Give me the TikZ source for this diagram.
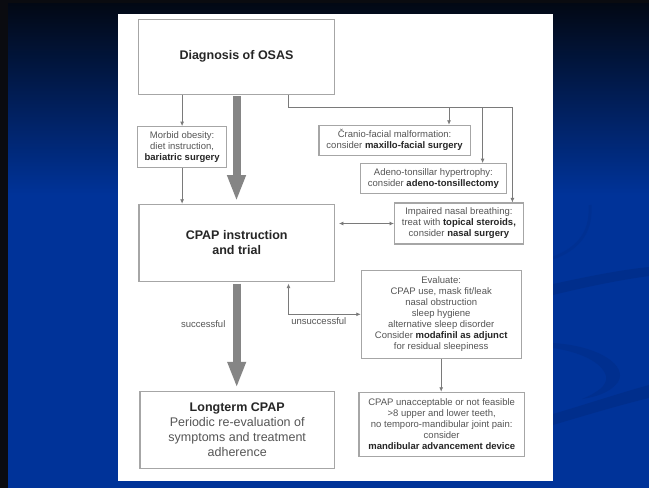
\documentclass[tikz,border=0pt]{standalone}
\usepackage{fontspec}
\setmainfont{Liberation Sans}
\usepackage{xcolor}
\usetikzlibrary{arrows.meta,positioning,calc}
\definecolor{framedark}{HTML}{0A0B10}
\definecolor{slidetop}{HTML}{020814}
\definecolor{slideblue}{HTML}{003399}
\definecolor{swoosh}{HTML}{002A80}
\definecolor{boxgrey}{HTML}{A6A6A6}
\definecolor{linegrey}{HTML}{7A7A7A}
\definecolor{shaftgrey}{HTML}{858585}
\definecolor{txtgrey}{HTML}{555555}
\definecolor{txtdark}{HTML}{262626}
\newcommand{\keyterm}[1]{\textcolor{txtdark}{\bfseries #1}}

\begin{document}
\begin{tikzpicture}[x=1pt,y=-1pt,
 box/.style={draw=boxgrey,line width=1.1pt,fill=white,align=center,inner sep=2pt,text=txtgrey,font=\fontsize{9.5}{11}\selectfont},
 bigbox/.style={box,font=\fontsize{12.5}{14.7}\selectfont},
 arr/.style={-{Latex[length=4.5pt,width=4pt]},draw=linegrey,line width=0.8pt},
 darr/.style={arr,{Latex[length=4.5pt,width=4pt]}-{Latex[length=4.5pt,width=4pt]}},
 bigarr/.style={-{Triangle[length=26pt,width=17pt]},draw=shaftgrey,line width=8pt},
 lbl/.style={text=txtgrey,font=\fontsize{9.5}{11}\selectfont}
]
\useasboundingbox (0,0) rectangle (649,488);
\fill[framedark] (0,0) rectangle (649,488);
\fill[slideblue] (8,3) rectangle (649,488);
\shade[top color=slidetop,bottom color=slideblue] (8,3) rectangle (649,195);
\fill[swoosh,opacity=0.5] (553,284) .. controls (590,276) and (620,270) .. (649,267) -- (649,276) .. controls (620,280) and (590,286) .. (553,295) -- cycle;
\fill[swoosh,opacity=0.5] (553,414) .. controls (590,403) and (620,393) .. (649,385) -- (649,398) .. controls (620,405) and (590,414) .. (553,425) -- cycle;
\fill[swoosh,opacity=0.4] (553,343) .. controls (600,346) and (628,366) .. (618,382) .. controls (610,393) and (595,397) .. (582,399) .. controls (596,393) and (608,386) .. (606,376) .. controls (602,362) and (580,352) .. (553,348) -- cycle;
\draw[swoosh,opacity=0.25,line width=3pt] (590,205) .. controls (592,235) and (575,250) .. (553,258);
\fill[white] (118,14) rectangle (553,481);

\node[bigbox,minimum width=195.7pt,minimum height=75.3pt] (diag) at (236.5,56.7) {\keyterm{Diagnosis of OSAS}};
\node[box,minimum width=88.6pt,minimum height=41pt] (obesity) at (182.1,147.2) {Morbid obesity:\\diet instruction,\\\keyterm{bariatric surgery}};
\node[box,minimum width=151.2pt,minimum height=30pt] (cranio) at (394.6,140.3) {Čranio-facial malformation:\\consider \keyterm{maxillo-facial surgery}};
\node[box,minimum width=145.7pt,minimum height=29.6pt] (adeno) at (433.4,178.5) {Adeno-tonsillar hypertrophy:\\consider \keyterm{adeno-tonsillectomy}};
\node[box,minimum width=128.7pt,minimum height=41pt] (nasal) at (458.9,223.5) {Impaired nasal breathing:\\treat with \keyterm{topical steroids,}\\consider \keyterm{nasal surgery}};
\node[bigbox,minimum width=195.4pt,minimum height=76.7pt] (cpap) at (236.7,242.7) {\keyterm{CPAP instruction}\\\keyterm{and trial}};
\node[box,minimum width=159.8pt,minimum height=88pt] (eval) at (441.2,314.3) {Evaluate:\\CPAP use, mask fit/leak\\nasal obstruction\\sleep hygiene\\alternative sleep disorder\\Consider \keyterm{modafinil as adjunct}\\for residual sleepiness};
\node[bigbox,minimum width=194.4pt,minimum height=77.3pt] (longterm) at (237.2,429.7) {\keyterm{Longterm CPAP}\\Periodic re-evaluation of\\symptoms and treatment\\adherence};
\node[box,minimum width=165.5pt,minimum height=64.4pt] (mad) at (441.7,424.5) {CPAP unacceptable or not feasible\\>8 upper and lower teeth,\\no temporo-mandibular joint pain:\\consider\\\keyterm{mandibular advancement device}};

\coordinate (busL) at (288.5,107.3);
\coordinate (busR) at (512.4,107.3);
\coordinate (tapC) at (449,107.3);
\coordinate (tapA) at (482.6,107.3);

\draw[arr] (diag.south -| obesity.north) -- (obesity.north);
\draw[arr] (obesity.south) -- (obesity.south |- cpap.north);
\draw[bigarr,shorten <=1.5pt,shorten >=2.6pt] (diag.south) -- (diag.south |- cpap.north);
\draw[arr] (diag.south -| busL) -- (busL) -- (busR) -- (busR |- nasal.north);
\draw[arr] (tapC) -- (tapC |- cranio.north);
\draw[arr] (tapA) -- (tapA |- adeno.north);
\draw[darr,shorten <=4pt] (nasal.west -| cpap.east) -- (nasal.west);
\draw[darr,shorten >=2pt] (eval.west) -| node[lbl,below,pos=0.29]{unsuccessful} (cpap.south -| busL);
\draw[bigarr,shorten <=2pt,shorten >=2.7pt] (cpap.south) -- node[lbl,left,xshift=-4pt,pos=0.39]{successful} (cpap.south |- longterm.north);
\draw[arr] (eval.south) -- (eval.south |- mad.north);
\end{tikzpicture}
\end{document}
